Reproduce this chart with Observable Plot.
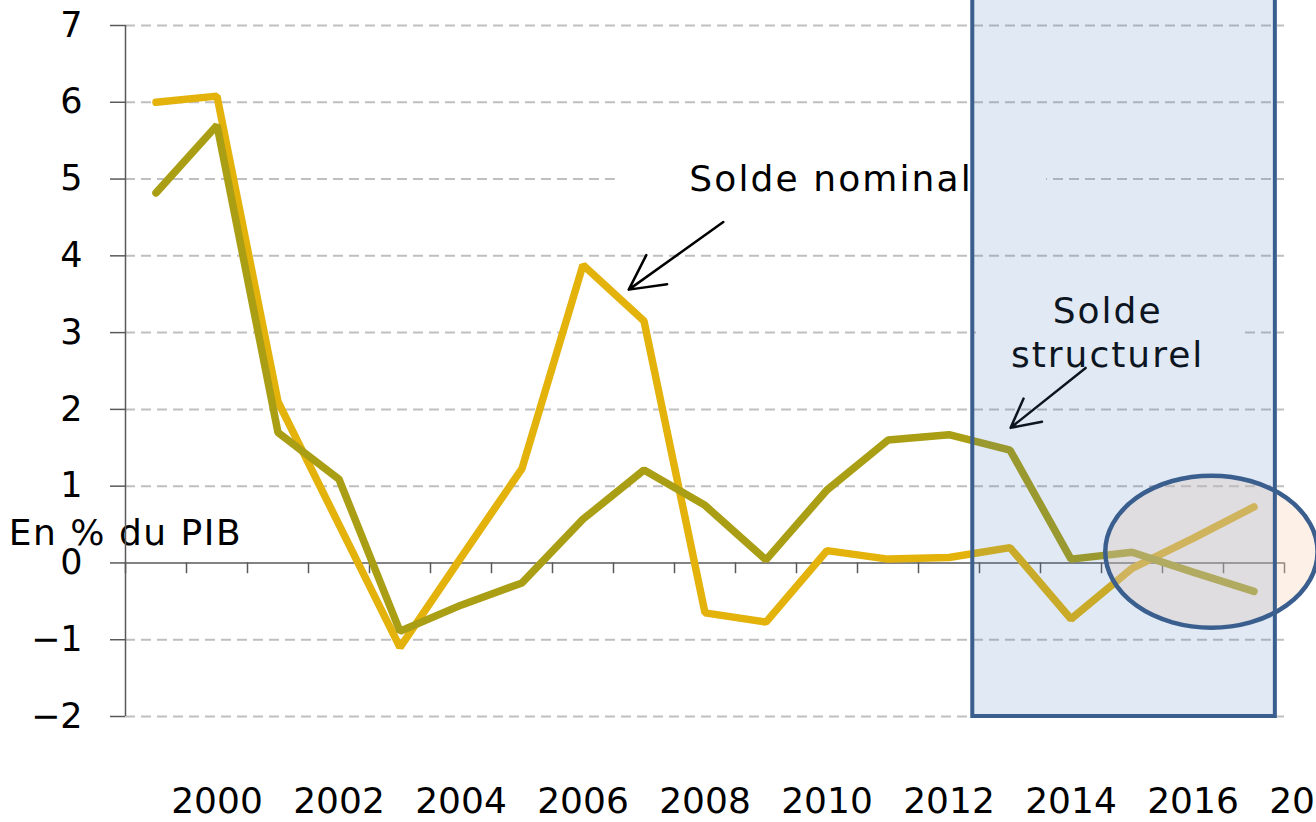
<!DOCTYPE html>
<html><head><meta charset="utf-8">
<script src="https://cdn.jsdelivr.net/npm/d3@7"></script>
<script src="https://cdn.jsdelivr.net/npm/@observablehq/plot@0.6"></script>
<style>
  html,body{margin:0;padding:0;background:#fff;overflow:hidden;}
  #chart svg{display:block;overflow:visible;}
</style>
</head><body><div id="chart"></div>
<script>
// ---- data ----
const years = [1999,2000,2001,2002,2003,2004,2005,2006,2007,2008,2009,2010,2011,2012,2013,2014,2015,2016,2017];
const soldeNominal    = [6.00,6.08,2.10,0.50,-1.10,0.07,1.23,3.88,3.15,-0.65,-0.77,0.16,0.05,0.07,0.20,-0.73,-0.07,0.32,0.73];
const soldeStructurel = [4.82,5.70,1.70,1.09,-0.89,-0.55,-0.26,0.57,1.21,0.75,0.04,0.95,1.60,1.67,1.47,0.05,0.14,-0.12,-0.37];
const yTicks = [-2,-1,0,1,2,3,4,5,6,7];
const xTickLabels = [2000,2002,2004,2006,2008,2010,2012,2014,2016,2018];
const yLabel = "En % du PIB";
const labelNominal = "Solde nominal";
const labelStructurel = "Solde\nstructurel";

// ---- derived tables ----
const nominal = years.map((year, i) => ({year, value: soldeNominal[i]}));
const structurel = years.map((year, i) => ({year, value: soldeStructurel[i]}));
const boundaries = [...years.map(y => y - 0.5), years[years.length - 1] + 0.5];
const gridValues = yTicks.filter(v => v !== 0);

// annotation placement (data units)
const textBoxes = [
  {x1: 2006.53, x2: 2013.6, y1: 4.72, y2: 5.28},
  {x1: 2012.45, x2: 2016.85, y1: 2.55, y2: 3.45}
];
const arrows = [
  {x1: 2008.3, y1: 4.44, x2: 2006.75, y2: 3.56},
  {x1: 2014.24, y1: 2.54, x2: 2013.01, y2: 1.76}
];
const highlightRect = [{x1: 2012.39, x2: 2017.35, y1: -2, y2: 7.6}];
const highlightEllipse = {cx: 2016.31, cy: 0.14, rx: 1.74, ry: 0.99};

function ellipseMark(opts) {
  return (index, scales) => {
    const e = d3.create("svg:ellipse")
      .attr("cx", scales.x(highlightEllipse.cx))
      .attr("cy", scales.y(highlightEllipse.cy))
      .attr("rx", Math.abs(scales.x(highlightEllipse.cx + highlightEllipse.rx) - scales.x(highlightEllipse.cx)))
      .attr("ry", Math.abs(scales.y(highlightEllipse.cy + highlightEllipse.ry) - scales.y(highlightEllipse.cy)));
    for (const [k, v] of Object.entries(opts)) e.attr(k, v);
    return e.node();
  };
}

const axisColor = "#595959";
const font = "DejaVu Sans";
const fmtY = d => (d < 0 ? "\u2212" : "") + Math.abs(d);

const chart = Plot.plot({
  width: 1316,
  height: 822,
  marginLeft: 125,
  marginRight: 32,
  marginTop: 25,
  marginBottom: 106,
  x: {domain: [1998.5, 2017.5], axis: null},
  y: {domain: [-2, 7], axis: null},
  style: {fontFamily: font, background: "#fff", color: "#000"},
  marks: [
    Plot.ruleY(gridValues, {stroke: "#BFBFBF", strokeWidth: 2, strokeDasharray: "10,6"}),
    Plot.rect(textBoxes, {x1: "x1", x2: "x2", y1: "y1", y2: "y2", fill: "white"}),
    Plot.text([labelNominal], {x: 2010.05, y: 5, dx: 1, text: d => d, fontSize: 36, fill: "#000"}),
    Plot.text([labelStructurel], {x: 2014.6, y: 3, dy: -2, dx: 0, text: d => d, fontSize: 36, lineHeight: 1.22, fill: "#000"}),
    Plot.arrow(arrows, {x1: "x1", y1: "y1", x2: "x2", y2: "y2", stroke: "#000", strokeWidth: 2.5, headLength: 24, headAngle: 55}),
    Plot.text([yLabel], {x: 1996.62, y: 0.39, dx: -2, text: d => d, textAnchor: "start", fontSize: 36, fill: "#000"}),
    Plot.ruleX([1998.5], {y1: -2, y2: 7, stroke: axisColor, strokeWidth: 1.5}),
    Plot.ruleY([0], {stroke: axisColor, strokeWidth: 1.5}),
    Plot.ruleX(boundaries, {y1: 0, y2: -0.14, stroke: axisColor, strokeWidth: 1.5}),
    Plot.axisY(yTicks, {tickSize: 15, tickPadding: 28, tickFormat: fmtY, fontSize: 35, stroke: axisColor, fill: "#000", strokeWidth: 1.5}),
    Plot.text(xTickLabels, {x: d => d, y: -2, dy: 85, text: d => String(d), fontSize: 36, fill: "#000"}),
    Plot.line(nominal, {x: "year", y: "value", stroke: "#E3B20B", strokeWidth: 7.5, strokeLinecap: "round", strokeLinejoin: "miter"}),
    Plot.line(structurel, {x: "year", y: "value", stroke: "#AA9E14", strokeWidth: 7.5, strokeLinecap: "round", strokeLinejoin: "miter"}),
    ellipseMark({fill: "#FAD6BA", "fill-opacity": 0.36, stroke: "none"}),
    Plot.rect(highlightRect, {x1: "x1", x2: "x2", y1: "y1", y2: "y2", fill: "#4F81BD", fillOpacity: 0.17, stroke: "#3A5F8F", strokeWidth: 4}),
    ellipseMark({fill: "none", stroke: "#3A5F8F", "stroke-width": 4.5})
  ]
});
// widen the annotation lettering like the reference
const spacing = {[labelNominal]: 2.1, [yLabel]: 1.5, "Solde": 2.0, "structurel": 2.0};
d3.select(chart).selectAll("text, tspan").each(function () {
  const t = this.textContent;
  if (spacing[t] !== undefined) d3.select(this).attr("letter-spacing", spacing[t] + "px").style("letter-spacing", spacing[t] + "px");
});
document.getElementById("chart").append(chart);
</script>
</body></html>
